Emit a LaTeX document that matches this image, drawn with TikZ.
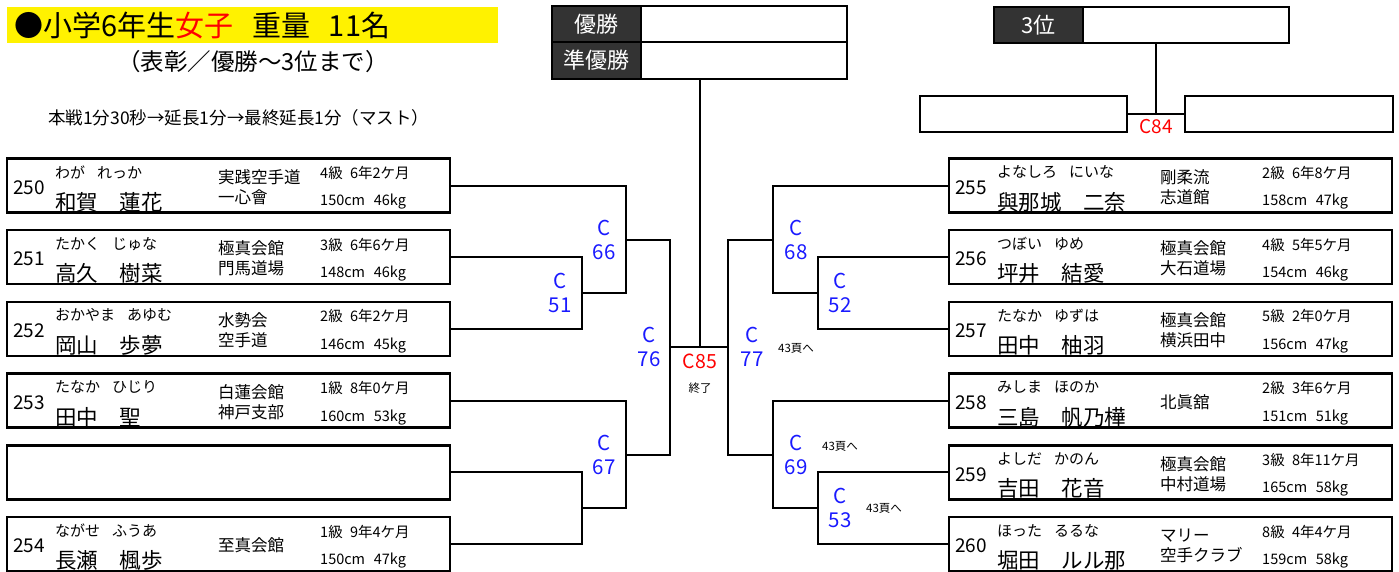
\documentclass[tikz,border=0pt]{standalone}
\usepackage{fontspec}
\setmainfont{Noto Sans CJK JP}
\usetikzlibrary{positioning}
\definecolor{headgray}{HTML}{333333}
\definecolor{matchblue}{HTML}{1A1AFF}
\tikzset{
  entry/.style={draw, line width=2.5pt, minimum width=443pt, minimum height=54pt, inner sep=0pt},
  slot/.style={draw, line width=2.5pt, inner sep=0pt},
  head/.style={slot, fill=headgray, text=white, font=\fontsize{22}{26}\selectfont},
  bracket/.style={line width=2pt},
  numtext/.style={anchor=west, inner sep=0pt, font=\fontsize{19}{22}\selectfont},
  kanatext/.style={anchor=west, inner sep=0pt, font=\fontsize{15}{17}\selectfont},
  nametext/.style={anchor=west, inner sep=0pt, font=\fontsize{21.5}{24}\selectfont},
  dojotext/.style={anchor=west, inner sep=0pt, align=left, font=\fontsize{16.5}{20}\selectfont},
  infotext/.style={anchor=west, inner sep=0pt, font=\fontsize{14.5}{16}\selectfont},
  mlabel/.style={inner sep=0pt, align=center, text=matchblue, font=\fontsize{20.5}{24}\selectfont},
  note/.style={inner sep=0pt, font=\fontsize{11.5}{14}\selectfont}
}
% #1 name, #2 left x, #3 centre y, #4 no., #5 kana, #6 name, #7 dojo, #8 grade, #9 body
\newcommand{\entrant}[9]{%
  \node[entry] (#1) at (#2+221.5,#3) {};
  \node[numtext] (#1-no) at (#2+6,#3+2) {#4};
  \node[kanatext] (#1-kana) at (#2+48,#3-13.5) {#5};
  \node[nametext] (#1-name) at (#2+48,#3+16.5) {#6};
  \node[dojotext] (#1-dojo) at (#2+211,#3+1.5) {#7};
  \node[infotext] (#1-grade) at (#2+313,#3-12.5) {#8};
  \node[infotext] (#1-body) at (#2+313,#3+16.5) {#9};
}
\newcommand{\kgap}{\hspace{0.8em}}
\begin{document}
\begin{tikzpicture}[x=1pt, y=-1pt]
\useasboundingbox (0,0) rectangle (1399,571);

% Title
\fill[yellow] (7,7) rectangle (498,43);
\node[anchor=west, inner sep=0pt, font=\fontsize{29}{32}\selectfont] (title) at (14,25) {●小学6年生\textcolor{red}{女子}\hspace{0.65em}重量\hspace{0.65em}11名};
\node[inner sep=0pt, font=\fontsize{23.5}{27}\selectfont] (subtitle) at (253,62) {（表彰／優勝～3位まで）};
\node[anchor=west, inner sep=0pt, font=\fontsize{17.5}{20}\selectfont] (rule) at (48,118) {本戦1分30秒→延長1分→最終延長1分（マスト）};

% Winners
\node[head, minimum width=89pt, minimum height=36pt] (h1st) at (596.5,24) {優勝};
\node[slot, minimum width=206pt, minimum height=36pt] (n1st) at (744,24) {};
\node[head, minimum width=89pt, minimum height=37pt] (h2nd) at (596.5,60.5) {準優勝};
\node[slot, minimum width=206pt, minimum height=37pt] (n2nd) at (744,60.5) {};
\node[head, minimum width=89pt, minimum height=36pt] (h3rd) at (1038.5,25) {3位};
\node[slot, minimum width=206pt, minimum height=36pt] (n3rd) at (1186,25) {};
\node[slot, minimum width=207pt, minimum height=36pt] (s1) at (1023.5,114) {};
\node[slot, minimum width=208pt, minimum height=36pt] (s2) at (1289,114) {};
\coordinate (m84) at (1156,114);
\draw[bracket] (s1.east) -- (s2.west);
\draw[bracket] (n3rd.south -| m84) -- (m84);
\node[inner sep=0pt, text=red, font=\fontsize{19}{22}\selectfont] (c84) at (1156,127) {C84};

% Entrants, left
\entrant{p250}{7}{185.5}{250}{わが\kgap れっか}{和賀　蓮花}{実践空手道\\一心會}{4級\hspace{0.5em}6年2ケ月}{150cm\hspace{0.6em}46kg}
\entrant{p251}{7}{257.2}{251}{たかく\kgap じゅな}{高久　樹菜}{極真会館\\門馬道場}{3級\hspace{0.5em}6年6ケ月}{148cm\hspace{0.6em}46kg}
\entrant{p252}{7}{328.9}{252}{おかやま\kgap あゆむ}{岡山　歩夢}{水勢会\\空手道}{2級\hspace{0.5em}6年2ケ月}{146cm\hspace{0.6em}45kg}
\entrant{p253}{7}{400.6}{253}{たなか\kgap ひじり}{田中　聖}{白蓮会館\\神戸支部}{1級\hspace{0.5em}8年0ケ月}{160cm\hspace{0.6em}53kg}
\node[entry] (pE) at (228.5,472.3) {};
\entrant{p254}{7}{544}{254}{ながせ\kgap ふうあ}{長瀬　楓歩}{至真会館}{1級\hspace{0.5em}9年4ケ月}{150cm\hspace{0.6em}47kg}

% Entrants, right
\entrant{p255}{949}{185.5}{255}{よなしろ\kgap にいな}{與那城　二奈}{剛柔流\\志道館}{2級\hspace{0.5em}6年8ケ月}{158cm\hspace{0.6em}47kg}
\entrant{p256}{949}{257.2}{256}{つぼい\kgap ゆめ}{坪井　結愛}{極真会館\\大石道場}{4級\hspace{0.5em}5年5ケ月}{154cm\hspace{0.6em}46kg}
\entrant{p257}{949}{328.9}{257}{たなか\kgap ゆずは}{田中　柚羽}{極真会館\\横浜田中}{5級\hspace{0.5em}2年0ケ月}{156cm\hspace{0.6em}47kg}
\entrant{p258}{949}{400.6}{258}{みしま\kgap ほのか}{三島　帆乃樺}{北眞舘}{2級\hspace{0.5em}3年6ケ月}{151cm\hspace{0.6em}51kg}
\entrant{p259}{949}{472.3}{259}{よしだ\kgap かのん}{吉田　花音}{極真会館\\中村道場}{3級\hspace{0.5em}8年11ケ月}{165cm\hspace{0.6em}58kg}
\entrant{p260}{949}{544}{260}{ほった\kgap るるな}{堀田　ルル那}{マリー\\空手クラブ}{8級\hspace{0.5em}4年4ケ月}{159cm\hspace{0.6em}58kg}

% Match points
\coordinate (m51) at (582,293);
\coordinate (m66) at (626,240);
\coordinate (mL) at (582,508);
\coordinate (m67) at (626,455);
\coordinate (m76) at (670,347);
\coordinate (m85) at (700,347);
\coordinate (m77) at (728,347);
\coordinate (m68) at (773,240);
\coordinate (m52) at (818,293);
\coordinate (m69) at (773,455);
\coordinate (m53) at (818,508);

% Brackets
\draw[bracket] (p250.east) -| (m66) |- (m51);
\draw[bracket] (p251.east) -| (m51) |- (p252.east);
\draw[bracket] (p253.east) -| (m67) |- (mL);
\draw[bracket] (pE.east) -| (mL) |- (p254.east);
\draw[bracket] (m66) -| (m76) |- (m67);
\draw[bracket] (m76) -- (m77);
\draw[bracket] (n2nd.south -| m85) -- (m85);
\draw[bracket] (m68) -| (m77) |- (m69);
\draw[bracket] (p255.west) -| (m68) |- (m52);
\draw[bracket] (p256.west) -| (m52) |- (p257.west);
\draw[bracket] (p258.west) -| (m69) |- (m53);
\draw[bracket] (p259.west) -| (m53) |- (p260.west);

% Match labels
\node[mlabel, xshift=-22pt] (c51) at (m51) {C\\51};
\node[mlabel, xshift=-22pt] (c66) at (m66) {C\\66};
\node[mlabel, xshift=-22pt] (c67) at (m67) {C\\67};
\node[mlabel, xshift=-21pt] (c76) at (m76) {C\\76};
\node[mlabel, xshift=24pt] (c77) at (m77) {C\\77};
\node[mlabel, xshift=23pt] (c68) at (m68) {C\\68};
\node[mlabel, xshift=22pt] (c52) at (m52) {C\\52};
\node[mlabel, xshift=23pt] (c69) at (m69) {C\\69};
\node[mlabel, xshift=22pt] (c53) at (m53) {C\\53};
\node[inner sep=0pt, text=red, font=\fontsize{19.5}{22}\selectfont] (c85) at (700,361) {C85};
\node[note] (end) at (700,388) {終了};
\node[note] (pg77) at (796,348) {43頁へ};
\node[note] (pg69) at (840,446) {43頁へ};
\node[note] (pg53) at (884,508) {43頁へ};
\end{tikzpicture}
\end{document}
